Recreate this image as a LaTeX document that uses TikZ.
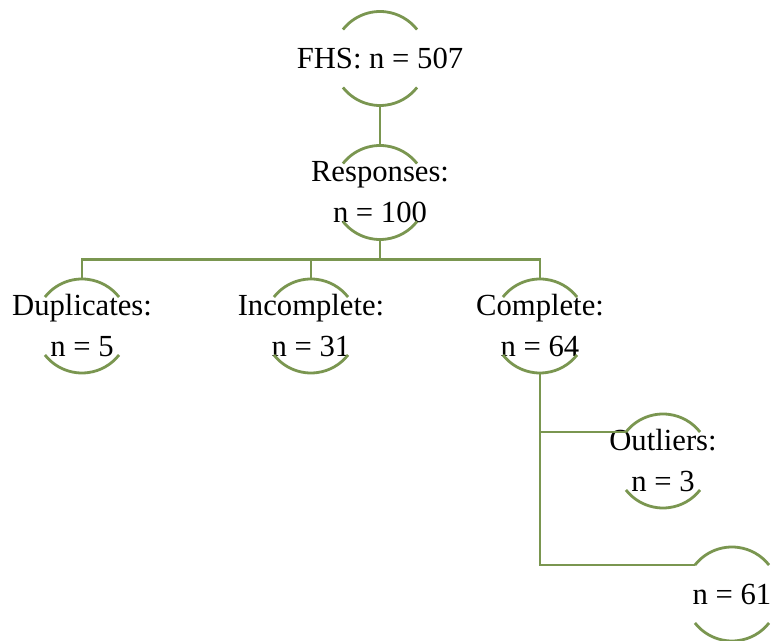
\documentclass[tikz,border=0pt]{standalone}
\usepackage{fontspec}
\setmainfont{Liberation Serif}
\usepackage{tikz}

\begin{document}
\begin{tikzpicture}[x=0.75pt, y=-0.75pt]

\definecolor{ringline}{HTML}{7A9650}
\definecolor{ringtext}{HTML}{000000}

% Radius of the open rings: only the top and bottom arcs are drawn.
\newcommand{\ringr}{35.25pt}

\tikzset{
  count/.style={
    align=center, text=ringtext, inner sep=0pt,
    font=\fontsize{23pt}{30.75pt}\selectfont
  },
  ringarc/.style={draw=ringline, line width=2.1pt},
  branch/.style={draw=ringline, line width=2.1pt}
}

\useasboundingbox (0,0) rectangle (775,641);

% Sample and the responses drawn from it.
\node[count] (fhs)  at (380,58.5)  {FHS: n = 507};
\node[count] (resp) at (380,192.5) {Responses:\\n = 100};

% How the responses split up.
\node[count] (dup)  at (82,326)  {Duplicates:\\n = 5};
\node[count] (inc)  at (311,326) {Incomplete:\\n = 31};
\node[count] (comp) at (540,326) {Complete:\\n = 64};

% The complete ones, less the outliers.
\node[count] (outl)  at (663,461) {Outliers:\\n = 3};
\node[count] (final) at (732,594) {n = 61};

% Open rings round every count.
\foreach \ring in {fhs,resp,dup,inc,comp,outl,final}{%
  \draw[ringarc] ([shift={(142:\ringr)}]\ring.center)
    arc[start angle=142, end angle=38, radius=\ringr];
  \draw[ringarc] ([shift={(-142:\ringr)}]\ring.center)
    arc[start angle=-142, end angle=-38, radius=\ringr];
}

% Connectors.
\draw[branch] ([yshift=-\ringr]fhs.center) -- ([yshift=\ringr]resp.center);
\foreach \child in {dup,inc,comp}
  \draw[branch] ([yshift=-\ringr]resp.center) -- ++(0,-15pt)
    -| ([yshift=\ringr]\child.center);
\foreach \child in {outl,final}
  \draw[branch] ([yshift=-\ringr]comp.center)
    |- ([shift={(142:\ringr)}]\child.center);

\end{tikzpicture}
\end{document}
